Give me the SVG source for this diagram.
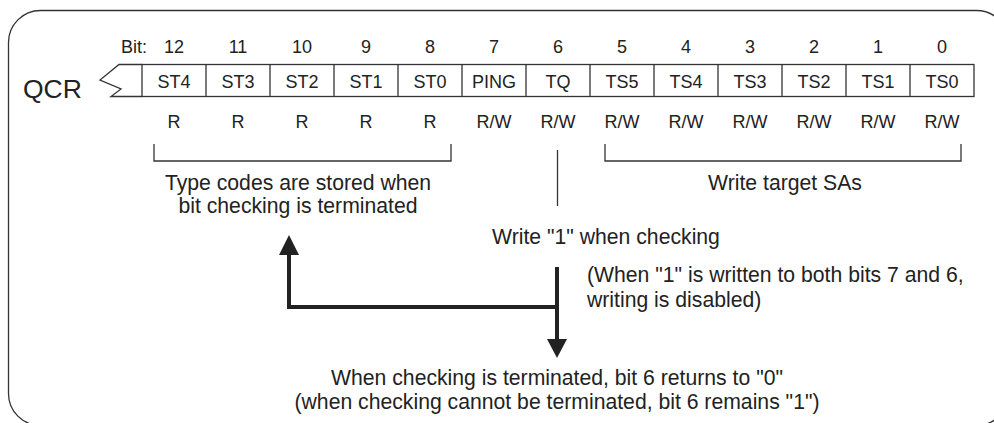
<svg xmlns="http://www.w3.org/2000/svg" width="994" height="423" viewBox="0 0 994 423">
<defs>
<style>
text{font-family:"Liberation Sans",Arial,sans-serif;fill:#222}
.f{fill:none;stroke:#333;stroke-width:1.3}
.cell{fill:#fff;stroke:#333;stroke-width:1.3}
.t18{font-size:18px;text-anchor:middle}
.ann{font-size:21.2px}
.mid{text-anchor:middle}
.thin{fill:none;stroke:#333;stroke-width:1.3}
.thick{fill:none;stroke:#222;stroke-width:4}
.head{fill:#222}
</style>
</defs>
<rect x="8.5" y="10.5" width="1000" height="415" rx="32" ry="32" class="f"/>
<g id="qcr-label"><text x="23" y="98" style="font-size:26.5px">QCR</text></g>
<g id="bit-row">
<text x="147" y="53" style="font-size:18px;text-anchor:end">Bit:</text>
<text x="174" y="53" class="t18">12</text>
<text x="238" y="53" class="t18">11</text>
<text x="302" y="53" class="t18">10</text>
<text x="366" y="53" class="t18">9</text>
<text x="430" y="53" class="t18">8</text>
<text x="494" y="53" class="t18">7</text>
<text x="558" y="53" class="t18">6</text>
<text x="622" y="53" class="t18">5</text>
<text x="686" y="53" class="t18">4</text>
<text x="750" y="53" class="t18">3</text>
<text x="814" y="53" class="t18">2</text>
<text x="878" y="53" class="t18">1</text>
<text x="942" y="53" class="t18">0</text>
</g>
<g id="register">
<polyline points="142,64.5 119,64.5 100,80 121,89 111,96.5 142,96.5" class="thin"/>
<rect x="142" y="64.5" width="832" height="32" class="cell"/>
<path d="M206 64.5V96.5M270 64.5V96.5M334 64.5V96.5M398 64.5V96.5M462 64.5V96.5M526 64.5V96.5M590 64.5V96.5M654 64.5V96.5M718 64.5V96.5M782 64.5V96.5M846 64.5V96.5M910 64.5V96.5" class="thin"/>
<text x="174" y="88" class="t18">ST4</text>
<text x="238" y="88" class="t18">ST3</text>
<text x="302" y="88" class="t18">ST2</text>
<text x="366" y="88" class="t18">ST1</text>
<text x="430" y="88" class="t18">ST0</text>
<text x="494" y="88" class="t18">PING</text>
<text x="558" y="88" class="t18">TQ</text>
<text x="622" y="88" class="t18">TS5</text>
<text x="686" y="88" class="t18">TS4</text>
<text x="750" y="88" class="t18">TS3</text>
<text x="814" y="88" class="t18">TS2</text>
<text x="878" y="88" class="t18">TS1</text>
<text x="942" y="88" class="t18">TS0</text>
</g>
<g id="access-row">
<text x="174" y="128" class="t18">R</text>
<text x="238" y="128" class="t18">R</text>
<text x="302" y="128" class="t18">R</text>
<text x="366" y="128" class="t18">R</text>
<text x="430" y="128" class="t18">R</text>
<text x="494" y="128" class="t18">R/W</text>
<text x="558" y="128" class="t18">R/W</text>
<text x="622" y="128" class="t18">R/W</text>
<text x="686" y="128" class="t18">R/W</text>
<text x="750" y="128" class="t18">R/W</text>
<text x="814" y="128" class="t18">R/W</text>
<text x="878" y="128" class="t18">R/W</text>
<text x="942" y="128" class="t18">R/W</text>
</g>
<g id="connectors">
<polyline points="154,144 154,161 451,161 451,144" class="thin"/>
<polyline points="605,144 605,161 961,161 961,144" class="thin"/>
<line x1="557.5" y1="150" x2="557.5" y2="206" class="thin"/>
<line x1="557" y1="267" x2="557" y2="342" class="thick"/>
<polygon points="547,339 567,339 557,358" class="head"/>
<polyline points="557,307 289,307 289,252" class="thick"/>
<polygon points="279,255 299,255 289,235" class="head"/>
</g>
<g id="type-codes-note">
<text x="298" y="190" class="ann mid">Type codes are stored when</text>
<text x="298" y="213" class="ann mid">bit checking is terminated</text>
</g>
<g id="write-target-note"><text x="785" y="190" class="ann mid">Write target SAs</text></g>
<g id="write-1-note"><text x="606" y="244" class="ann mid">Write "1" when checking</text></g>
<g id="disabled-note">
<text x="587" y="282" class="ann">(When "1" is written to both bits 7 and 6,</text>
<text x="587" y="307" class="ann">writing is disabled)</text>
</g>
<g id="terminated-note">
<text x="557" y="385" class="ann mid">When checking is terminated, bit 6 returns to "0"</text>
<text x="557" y="409" class="ann mid">(when checking cannot be terminated, bit 6 remains "1")</text>
</g>
</svg>
